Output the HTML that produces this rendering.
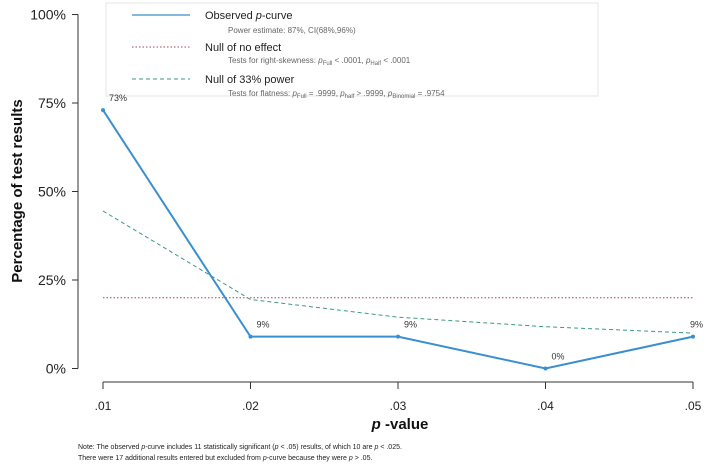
<!DOCTYPE html>
<html><head><meta charset="utf-8"><style>
body{margin:0;background:#fff;font-family:"Liberation Sans",Arial,sans-serif}
svg{display:block}
</style></head><body>
<svg width="711" height="466" id="chart" font-family="Liberation Sans, Arial, sans-serif">
<rect x="106" y="3" width="492" height="93" fill="#fff" stroke="#e4e4e4"/>
<g>
<line x1="132" y1="15" x2="190" y2="15" stroke="#3a8fc8" stroke-width="1.2"/>
<text x="205" y="19" font-size="11" fill="#222">Observed <tspan font-style="italic">p</tspan>-curve</text>
<text x="228" y="33" font-size="8" fill="#666">Power estimate: 87%, CI(68%,96%)</text>
<line x1="132" y1="47" x2="190" y2="47" stroke="#b04050" stroke-width="1" stroke-dasharray="1.5,2"/>
<text x="205" y="51" font-size="11" fill="#222">Null of no effect</text>
<text x="228" y="63" font-size="8" fill="#666">Tests for right-skewness: <tspan font-style="italic">p</tspan><tspan font-size="6" dy="2">Full</tspan><tspan dy="-2"> &lt; .0001,  </tspan><tspan font-style="italic">p</tspan><tspan font-size="6" dy="2">Half</tspan><tspan dy="-2"> &lt; .0001</tspan></text>
<line x1="132" y1="79" x2="190" y2="79" stroke="#3a9a80" stroke-width="1" stroke-dasharray="4,3"/>
<text x="205" y="83" font-size="11" fill="#222">Null of 33% power</text>
<text x="228" y="96" font-size="8" fill="#666">Tests for flatness: <tspan font-style="italic">p</tspan><tspan font-size="6" dy="2">Full</tspan><tspan dy="-2"> = .9999,  </tspan><tspan font-style="italic">p</tspan><tspan font-size="6" dy="2">half</tspan><tspan dy="-2"> &gt; .9999,  </tspan><tspan font-style="italic">p</tspan><tspan font-size="6" dy="2">Binomial</tspan><tspan dy="-2"> = .9754</tspan></text>
</g>
<g id="axes"></g>
<g id="marks"></g>
<text x="400" y="429" text-anchor="middle" font-size="15" font-weight="bold" fill="#111"><tspan font-style="italic">p</tspan> -value</text>
<text transform="translate(22,191) rotate(-90)" text-anchor="middle" font-size="15" font-weight="bold" fill="#111">Percentage of test results</text>
<text x="78" y="449" font-size="7" fill="#222">Note: The observed <tspan font-style="italic">p</tspan>-curve includes 11 statistically significant (<tspan font-style="italic">p</tspan> &lt; .05) results, of which 10 are <tspan font-style="italic">p</tspan> &lt; .025.</text>
<text x="78" y="460" font-size="7" fill="#222">There were 17 additional results entered but excluded from <tspan font-style="italic">p</tspan>-curve because they were <tspan font-style="italic">p</tspan> &gt; .05.</text>
</svg>
<script>
const categories=[".01",".02",".03",".04",".05"];
const observed=[73,9,9,0,9];
const nullEffect=[20,20,20,20,20];
const null33=[44.5,19.5,14.5,11.8,10];
const yTicks=[0,25,50,75,100];
const NS="http://www.w3.org/2000/svg";
const x=i=>103+i*(693-103)/(categories.length-1);
const y=v=>368.5-v*3.54;
function mk(t,a,p){const e=document.createElementNS(NS,t);for(const k in a)e.setAttribute(k,a[k]);p.appendChild(e);return e;}
const ax=document.getElementById('axes'),mg=document.getElementById('marks');
let yl=mk('line',{x1:78,x2:78,y1:y(100),y2:y(0),stroke:'#333'},ax);


yTicks.forEach(v=>{mk('line',{x1:72,x2:78,y1:y(v),y2:y(v),stroke:'#333'},ax);
const t=mk('text',{x:66,y:y(v)+5,'text-anchor':'end','font-size':14,fill:'#222'},ax);t.textContent=v+'%';

});
let xl=mk('line',{x1:x(0),x2:x(4),y1:382,y2:382,stroke:'#333'},ax);


categories.forEach((c,i)=>{mk('line',{x1:x(i),x2:x(i),y1:382,y2:389,stroke:'#333'},ax);
const t=mk('text',{x:x(i),y:410,'text-anchor':'middle','font-size':12,fill:'#222'},ax);t.textContent=c;

});
const pts=a=>a.map((v,i)=>x(i)+','+y(v)).join(' ');
let l1=mk('polyline',{points:pts(nullEffect),fill:'none',stroke:'#b04050','stroke-width':1,'stroke-dasharray':'1.5,2'},mg);


let l2=mk('polyline',{points:pts(null33),fill:'none',stroke:'#3a9a80','stroke-width':1,'stroke-dasharray':'4,3'},mg);


let l3=mk('polyline',{points:pts(observed),fill:'none',stroke:'#3a8fd0','stroke-width':2},mg);


observed.forEach((v,i)=>{const c=mk('circle',{cx:x(i),cy:y(v),r:2,fill:'#3a8fd0'},mg);


const t=mk('text',{x:x(i)+(i==4?-3:6),y:y(v)-9,'font-size':9,fill:'#333','text-anchor':i==0?'start':'start'},mg);t.textContent=v+'%';

});
</script>
</body></html>
